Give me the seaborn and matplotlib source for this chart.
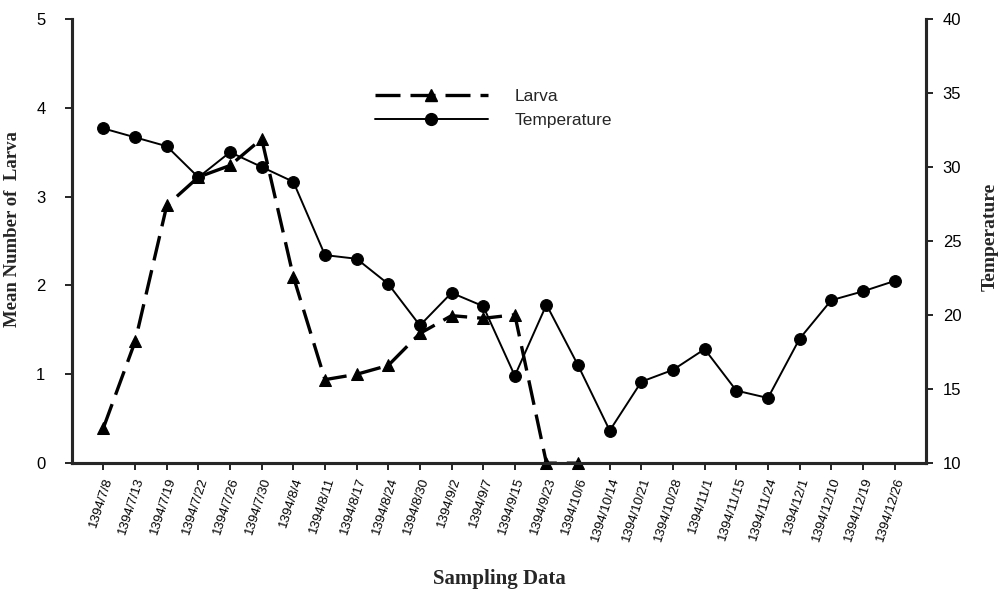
import numpy as np
import pandas as pd
import seaborn as sns
import matplotlib.pyplot as plt
from matplotlib.lines import Line2D

# Sampling dates (Persian calendar)
dates = ["1394/7/8", "1394/7/13", "1394/7/19", "1394/7/22", "1394/7/26", "1394/7/30",
         "1394/8/4", "1394/8/11", "1394/8/17", "1394/8/24", "1394/8/30", "1394/9/2",
         "1394/9/7", "1394/9/15", "1394/9/23", "1394/10/6", "1394/10/14", "1394/10/21",
         "1394/10/28", "1394/11/1", "1394/11/15", "1394/11/24", "1394/12/1", "1394/12/10",
         "1394/12/19", "1394/12/26"]

larva = [0.4, 1.37, 2.9, 3.22, 3.35, 3.65, 2.1, 0.94, 1.0, 1.1, 1.46, 1.66,
         1.63, 1.67, 0.0, 0.0, np.nan, np.nan, np.nan, np.nan, np.nan, np.nan,
         np.nan, np.nan, np.nan, np.nan]

temperature = [32.6, 32.0, 31.4, 29.3, 31.0, 30.0, 29.0, 24.05, 23.8, 22.1, 19.3, 21.5,
               20.6, 15.9, 20.7, 16.6, 12.2, 15.5, 16.3, 17.7, 14.9, 14.4, 18.4, 21.0,
               21.6, 22.3]

df = pd.DataFrame({"pos": np.arange(len(dates)), "date": dates,
                   "larva": larva, "temperature": temperature})

sns.set_style("ticks")
plt.rcParams['font.family'] = ['Liberation Sans', 'DejaVu Sans']

fig, ax = plt.subplots(figsize=(9.98, 5.90), dpi=100)
fig.subplots_adjust(left=0.072, right=0.928, top=0.968, bottom=0.215)
ax2 = ax.twinx()

dash = (0, (7.5, 3))
sns.lineplot(data=df.dropna(subset=["larva"]), x="pos", y="larva", ax=ax, color="black",
             linewidth=2.4, linestyle=dash, marker="^", markersize=9,
             markeredgecolor="black", markerfacecolor="black", clip_on=False, zorder=3)
sns.lineplot(data=df, x="pos", y="temperature", ax=ax2, color="black",
             linewidth=1.4, marker="o", markersize=8.5,
             markeredgecolor="black", markerfacecolor="black")

ax.set_xlim(-1, 26)
ax.set_ylim(0, 5)
ax2.set_ylim(10, 40)
ax.set_yticks(range(0, 6))
ax2.set_yticks(range(10, 41, 5))
ax.set_xticks(df["pos"])
ax.set_xticklabels(dates, rotation=72, fontsize=9.5, ha="right", rotation_mode="anchor")

for a in (ax, ax2):
    a.spines["top"].set_visible(False)
    for s in a.spines.values():
        s.set_linewidth(2.2)
    a.tick_params(axis="y", length=5, width=1.2, labelsize=12, colors="black")
ax.tick_params(axis="y", pad=14)
ax2.tick_params(axis="y", pad=7)
ax.tick_params(axis="x", length=5, width=1.2, labelsize=9.5, pad=4, colors="black")

serif = ['Liberation Serif', 'DejaVu Serif']
ax.set_xlabel("Sampling Data", family=serif, fontweight="bold", fontsize=15)
ax.xaxis.set_label_coords(0.5006, -0.238)
ax.set_ylabel("Mean Number of  Larva", family=serif, fontweight="bold", fontsize=13.5)
ax.yaxis.set_label_coords(-0.0597, 0.527)
ax2.set_ylabel("Temperature", family=serif, fontweight="bold", fontsize=14, rotation=90)
ax2.yaxis.set_label_coords(1.0655, 0.51)

handles = [
    Line2D([], [], color="black", linewidth=2.4, linestyle=dash, marker="^", markersize=9),
    Line2D([], [], color="black", linewidth=1.4, marker="o", markersize=8.5),
]
fig.legend(handles, ["Larva", "Temperature"], loc="upper left",
           bbox_to_anchor=(375 / 998, 1 - 89 / 590), bbox_transform=fig.transFigure,
           frameon=False, fontsize=12.5, handlelength=6.5, handletextpad=1.55,
           labelspacing=0.48, borderpad=0, borderaxespad=0)

plt.savefig("out.png", dpi=100)
